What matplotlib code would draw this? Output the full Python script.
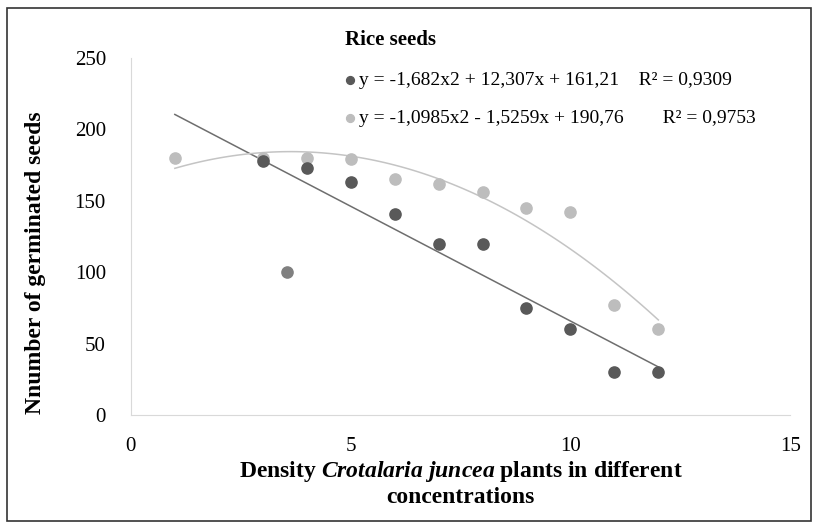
import numpy as np
import matplotlib.pyplot as plt
from matplotlib.patches import Rectangle

plt.rcParams['font.family'] = ['Liberation Serif', 'DejaVu Serif']
plt.rcParams['mathtext.fontset'] = 'custom'
plt.rcParams['mathtext.it'] = 'Liberation Serif:bold:italic'
plt.rcParams['mathtext.rm'] = 'Liberation Serif:bold'

# dark series
x_dark = [1, 3, 4, 5, 6, 7, 8, 9, 10, 11, 12]
y_dark = [180, 178, 173, 163, 141, 120, 120, 75, 60, 30, 30]
# lone mid-grey point
x_odd = [3.55]
y_odd = [100]
# light series
x_light = [1, 3, 4, 5, 6, 7, 8, 9, 10, 11, 12]
y_light = [180, 180, 180, 179, 165, 162, 156, 145, 142, 77, 60]

lab_dark = "y = -1,682x2 + 12,307x + 161,21    R² = 0,9309"
lab_light = "y = -1,0985x2 - 1,5259x + 190,76        R² = 0,9753"

fig = plt.figure(figsize=(8.18, 5.26), dpi=100)
ax = fig.add_axes([0.160, 0.211, 0.806, 0.679])

# trend lines
xs = np.linspace(1, 12, 100)
p1 = np.polyfit(x_dark, y_dark, 1)
p2 = np.polyfit(x_light, y_light, 2)
ax.plot(xs, np.polyval(p1, xs), color='#6e6e6e', lw=1.1, zorder=2)
ax.plot(xs, np.polyval(p2, xs), color='#c4c4c4', lw=1.1, zorder=2)

ax.scatter(x_light, y_light, s=65, color='#bdbdbd', zorder=3, label=lab_light)
ax.scatter(x_dark[1:], y_dark[1:], s=65, color='#595959', zorder=4)
ax.scatter(x_odd, y_odd, s=65, color='#808080', zorder=4)
ax.scatter([], [], s=65, color='#595959', label=lab_dark)

ax.set_xlim(0, 15)
ax.set_ylim(0, 250)
ax.set_xticks([0, 5, 10, 15])
ax.set_yticks([0, 50, 100, 150, 200, 250])
ax.tick_params(length=0, labelsize=15)
ax.tick_params(axis='x', pad=16)
ax.tick_params(axis='y', pad=18)
for s in ['top', 'right']:
    ax.spines[s].set_visible(False)
for s in ['left', 'bottom']:
    ax.spines[s].set_color('#d9d9d9')

ax.set_ylabel("Nnumber of germinated seeds", fontsize=17, fontweight='bold')
ax.yaxis.set_label_coords(46 / 818, 0.5, transform=fig.transFigure)
ax.set_xlabel("Density $Crotalaria\\ juncea$ plants in different\nconcentrations",
              fontsize=17, fontweight='bold', labelpad=2, linespacing=1.2)

fig.text(345 / 818, 1 - 40 / 526, "Rice seeds", fontsize=15, fontweight='bold', va='center')

h, l = ax.get_legend_handles_labels()
leg = fig.legend(h[::-1], l[::-1], loc='upper left',
                 bbox_to_anchor=(332 / 818, 1 - 62 / 526),
                 frameon=False, fontsize=14, handletextpad=0.1, handlelength=0.8,
                 labelspacing=1.05, borderpad=0, markerscale=0.7)

fig.patches.append(Rectangle((0.009, 0.010), 0.983, 0.975, transform=fig.transFigure,
                             fill=False, edgecolor='#333333', lw=1.2))

fig.savefig("out.png", dpi=100)
